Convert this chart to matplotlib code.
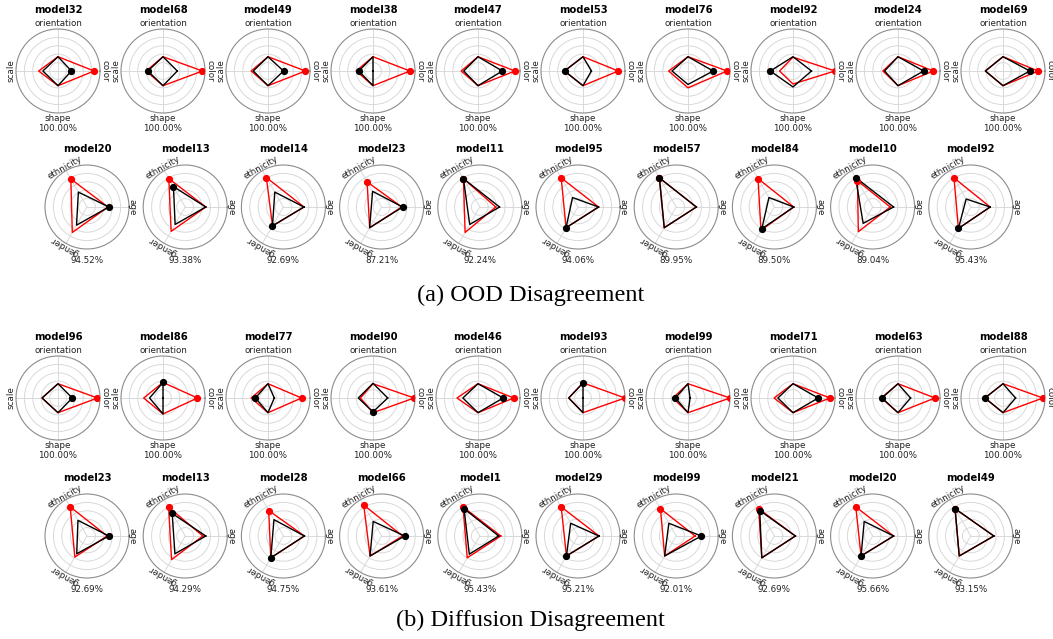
import numpy as np
import matplotlib.pyplot as plt

# attributes, order = angle order (0, 90, 180, 270) / (0, 120, 240)
sq_attrs = ["color", "orientation", "scale", "shape"]
tri_attrs = ["age", "ethnicity", "gender"]

# ---- (a) OOD disagreement ----
ood_sq_models = ["model32", "model68", "model49", "model38", "model47",
                 "model53", "model76", "model92", "model24", "model69"]
ood_sq_acc = ["100.00%"] * 10
# color, orientation, scale, shape
ood_sq_red = [
    [0.86, 0.34, 0.46, 0.35], [0.94, 0.34, 0.40, 0.35], [0.89, 0.34, 0.40, 0.35],
    [0.88, 0.34, 0.40, 0.35], [0.88, 0.34, 0.40, 0.35], [0.84, 0.34, 0.44, 0.35],
    [0.93, 0.34, 0.46, 0.40], [1.00, 0.33, 0.32, 0.31], [0.84, 0.34, 0.36, 0.35],
    [0.84, 0.34, 0.42, 0.35],
]
ood_sq_black = [
    [0.32, 0.34, 0.36, 0.35], [0.34, 0.34, 0.36, 0.35], [0.37, 0.34, 0.35, 0.35],
    [0.00, 0.34, 0.34, 0.35], [0.58, 0.34, 0.34, 0.35], [0.20, 0.34, 0.44, 0.35],
    [0.60, 0.34, 0.38, 0.32], [0.44, 0.34, 0.54, 0.38], [0.61, 0.34, 0.32, 0.35],
    [0.64, 0.34, 0.42, 0.35],
]
ood_sq_red_mark = [0, 0, 0, 0, 0, 0, 0, 0, 0, 0]
ood_sq_black_mark = [0, 2, 0, 2, 0, 2, 0, 2, 0, 0]

ood_tri_models = ["model20", "model13", "model14", "model23", "model11",
                  "model95", "model57", "model84", "model10", "model92"]
ood_tri_acc = ["94.52%", "93.38%", "92.69%", "87.21%", "92.24%",
               "94.06%", "89.95%", "89.50%", "89.04%", "95.43%"]
# age, ethnicity, gender
ood_tri_red = [
    [0.50, 0.77, 0.70], [0.49, 0.78, 0.67], [0.49, 0.81, 0.52], [0.48, 0.69, 0.57],
    [0.38, 0.78, 0.70], [0.49, 0.80, 0.57], [0.48, 0.80, 0.57], [0.46, 0.78, 0.64],
    [0.42, 0.72, 0.68], [0.46, 0.80, 0.59],
]
ood_tri_black = [
    [0.52, 0.41, 0.50], [0.49, 0.56, 0.48], [0.49, 0.41, 0.52], [0.50, 0.43, 0.57],
    [0.47, 0.78, 0.48], [0.49, 0.26, 0.57], [0.48, 0.80, 0.57], [0.46, 0.26, 0.60],
    [0.50, 0.81, 0.45], [0.46, 0.22, 0.59],
]
ood_tri_red_mark = [1, 1, 1, 1, 1, 1, 1, 1, 1, 1]
ood_tri_black_mark = [0, 1, 2, 0, 1, 2, 1, 2, 1, 2]

# ---- (b) Diffusion disagreement ----
dif_sq_models = ["model96", "model86", "model77", "model90", "model46",
                 "model93", "model99", "model71", "model63", "model88"]
dif_sq_acc = ["100.00%"] * 10
dif_sq_red = [
    [0.94, 0.34, 0.38, 0.35], [0.82, 0.37, 0.46, 0.38], [0.80, 0.34, 0.40, 0.35],
    [0.98, 0.34, 0.30, 0.35], [0.85, 0.34, 0.50, 0.35], [1.00, 0.36, 0.34, 0.35],
    [1.00, 0.34, 0.36, 0.35], [0.88, 0.34, 0.45, 0.35], [0.88, 0.34, 0.40, 0.35],
    [0.95, 0.34, 0.43, 0.35],
]
dif_sq_black = [
    [0.34, 0.34, 0.38, 0.35], [0.00, 0.37, 0.32, 0.38], [0.15, 0.34, 0.30, 0.35],
    [0.35, 0.35, 0.35, 0.33], [0.60, 0.34, 0.36, 0.35], [0.00, 0.36, 0.34, 0.35],
    [0.05, 0.34, 0.30, 0.35], [0.60, 0.34, 0.36, 0.35], [0.30, 0.34, 0.38, 0.35],
    [0.30, 0.34, 0.43, 0.35],
]
dif_sq_red_mark = [0, 0, 0, 0, 0, 0, 0, 0, 0, 0]
dif_sq_black_mark = [0, 1, 2, 3, 0, 1, 2, 0, 2, 2]

dif_tri_models = ["model23", "model13", "model28", "model66", "model1",
                  "model29", "model99", "model21", "model20", "model49"]
dif_tri_acc = ["92.69%", "94.29%", "94.75%", "93.61%", "95.43%",
               "95.21%", "92.01%", "92.69%", "95.66%", "93.15%"]
dif_tri_red = [
    [0.48, 0.80, 0.58], [0.42, 0.79, 0.65], [0.50, 0.70, 0.60], [0.50, 0.85, 0.55],
    [0.50, 0.80, 0.60], [0.50, 0.80, 0.55], [0.45, 0.75, 0.55], [0.50, 0.75, 0.60],
    [0.50, 0.80, 0.55], [0.55, 0.75, 0.55],
]
dif_tri_black = [
    [0.52, 0.43, 0.49], [0.49, 0.62, 0.49], [0.50, 0.45, 0.60], [0.55, 0.40, 0.55],
    [0.45, 0.75, 0.50], [0.50, 0.35, 0.55], [0.60, 0.35, 0.55], [0.50, 0.70, 0.60],
    [0.50, 0.40, 0.55], [0.55, 0.75, 0.55],
]
dif_tri_red_mark = [1, 1, 1, 1, 1, 1, 1, 1, 1, 1]
dif_tri_black_mark = [0, 1, 2, 0, 1, 2, 0, 1, 2, 1]

# ---- layout (pixels) ----
W, H = 1053, 639
R = 42
fig = plt.figure(figsize=(W / 100, H / 100), dpi=100)


def radar(cx, cy, attrs, angles, rots, lab_r, title_y, acc_y,
          name, acc, red, black, rm, bm):
    ax = fig.add_axes([(cx - R) / W, 1 - (cy + R) / H, 2 * R / W, 2 * R / H],
                      projection="polar")
    th = np.deg2rad(angles)
    thc = np.append(th, th[0])
    for vals, col, m in [(red, "red", rm), (black, "black", bm)]:
        v = np.append(vals, vals[0])
        ax.plot(thc, v, color=col, lw=1.0, zorder=3)
        ax.plot(th[m], vals[m], "o", color=col, ms=4.2, zorder=4)
    ax.set_ylim(0, 1)
    ax.set_yticks([0.2, 0.4, 0.6, 0.8])
    ax.set_yticklabels([])
    ax.set_xticks(th)
    ax.set_xticklabels([])
    ax.grid(color="#d9d9d9", lw=0.7)
    ax.spines["polar"].set_color("#8c8c8c")
    ax.spines["polar"].set_linewidth(0.8)
    for t, lab, rot in zip(th, attrs, rots):
        ax.text(t, lab_r, lab, rotation=rot, rotation_mode="anchor",
                ha="center", va="center", fontsize=6.3, color="#222222")
    ax.text(0.5, title_y, name, transform=ax.transAxes, ha="center",
            va="center", fontsize=7.2, fontweight="bold")
    ax.text(0.5, acc_y, acc, transform=ax.transAxes, ha="center",
            va="center", fontsize=6.3, color="#222222")


def sq_row(cy, models, acc, red, black, rm, bm):
    for i in range(len(models)):
        radar(58 + 105 * i, cy, sq_attrs, [0, 90, 180, 270], [-90, 0, 90, 0],
              1.13, 1.226, -0.185, models[i], acc[i], red[i], black[i], rm[i], bm[i])


def tri_row(cy, models, acc, red, black, rm, bm):
    for i in range(len(models)):
        radar(87 + 98.2 * i, cy, tri_attrs, [0, 120, 240], [-90, 30, 150],
              1.08, 1.19, -0.14, models[i], acc[i], red[i], black[i], rm[i], bm[i])


sq_row(71, ood_sq_models, ood_sq_acc, ood_sq_red, ood_sq_black,
       ood_sq_red_mark, ood_sq_black_mark)
tri_row(207, ood_tri_models, ood_tri_acc, ood_tri_red, ood_tri_black,
        ood_tri_red_mark, ood_tri_black_mark)
sq_row(398, dif_sq_models, dif_sq_acc, dif_sq_red, dif_sq_black,
       dif_sq_red_mark, dif_sq_black_mark)
tri_row(536, dif_tri_models, dif_tri_acc, dif_tri_red, dif_tri_black,
        dif_tri_red_mark, dif_tri_black_mark)

fig.text(530.5 / W, 1 - 295 / H, "(a) OOD Disagreement", ha="center", va="center",
         fontsize=17.5, family="Liberation Serif")
fig.text(530.5 / W, 1 - 620 / H, "(b) Diffusion Disagreement", ha="center", va="center",
         fontsize=17.5, family="Liberation Serif")

fig.savefig("out.png", dpi=100)
